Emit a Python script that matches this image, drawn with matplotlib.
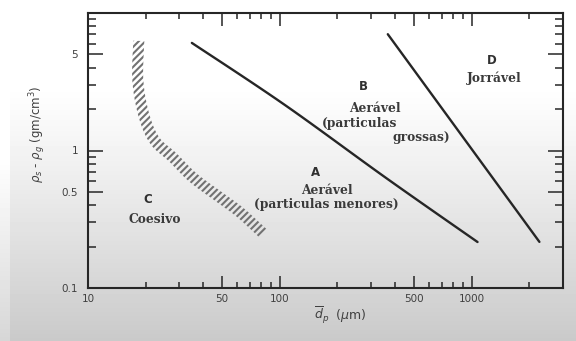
import numpy as np
import matplotlib
matplotlib.use('Agg')
import matplotlib.pyplot as plt
from matplotlib.patches import Polygon
from matplotlib.ticker import FixedLocator, NullFormatter

# boundary A/B  (dp in um, rho_s - rho_g in g/cm3)
ab_dp = [34.8, 106, 361, 1075]
ab_rho = [6.06, 2.15, 0.627, 0.216]

# boundary B/D
bd_dp = [366, 2260]
bd_rho = [7.01, 0.2165]

# hatched band C/A (centre line)
c_dp = [18.4, 18.2, 19.6, 22.3, 27.7, 35.2, 47.0, 61.9, 81.5]
c_rho = [6.27, 3.21, 1.79, 1.18, 0.89, 0.637, 0.472, 0.356, 0.251]

xticks = [10, 50, 100, 500, 1000]
xtick_labels = ['10', '50', '100', '500', '1000']
xminor = [20, 30, 40, 60, 70, 80, 90, 200, 300, 400, 600, 700, 800, 900, 2000, 3000]
yticks = [0.1, 0.5, 1, 5]
ytick_labels = ['0.1', '0.5', '1', '5']
yminor = [0.2, 0.3, 0.4, 0.6, 0.7, 0.8, 0.9, 2, 3, 4, 6, 7, 8, 9]

# region labels
letters = [('A', 154, 0.693), ('B', 274, 2.91), ('C', 20.5, 0.441), ('D', 1271, 4.49)]
names = [('Aerável', 312, 2.01), ('(particulas', 261, 1.57), ('grossas)', 549, 1.24),
         ('Jorrável', 1318, 3.38), ('Aerável', 176, 0.513),
         ('(particulas menores)', 174, 0.407), ('Coesivo', 22.3, 0.316)]


def smooth(p, n=12):
    # catmull-rom through the given display points
    p = np.vstack([p[0], p, p[-1]])
    out = []
    for i in range(1, len(p) - 2):
        p0, p1, p2, p3 = p[i - 1], p[i], p[i + 1], p[i + 2]
        for s in np.linspace(0, 1, n, endpoint=False):
            out.append(0.5 * ((2 * p1) + (-p0 + p2) * s + (2 * p0 - 5 * p1 + 4 * p2 - p3) * s ** 2
                              + (-p0 + 3 * p1 - 3 * p2 + p3) * s ** 3))
    out.append(p[-2])
    return np.array(out)


W, H = 576, 341
fig = plt.figure(figsize=(W / 100, H / 100), dpi=100)

# greyish photo background
bg = fig.add_axes([0, 0, 1, 1], zorder=-5)
rows = np.arange(H)
t = np.clip((rows - 85) / (H - 85), 0, 1)
col = 1 - 0.21 * t ** 1.1
img = np.repeat(col[:, None], W, axis=1)
img[:, :10] = np.minimum(img[:, :10] + 0.05, 1)
bg.imshow(img, cmap='gray', vmin=0, vmax=1, aspect='auto', extent=[0, 1, 0, 1])
bg.axis('off')

ax = fig.add_axes([88 / W, 1 - 288 / H, 475 / W, 275 / H])
ax.patch.set_alpha(0)
ax.set_xscale('log')
ax.set_yscale('log')
ax.set_xlim(10, 3000)
ax.set_ylim(0.1, 10)

dark = '#262626'
ab = ax.transData.inverted().transform(smooth(ax.transData.transform(np.column_stack([ab_dp, ab_rho]))))
ax.plot(ab[:, 0], ab[:, 1], color=dark, lw=1.7, solid_capstyle='round')
ax.plot(bd_dp, bd_rho, color=dark, lw=1.7, solid_capstyle='round')

# hatched band around the centre line, built in display space
plt.rcParams['hatch.linewidth'] = 1.5
pts = smooth(ax.transData.transform(np.column_stack([c_dp, c_rho])))
d = np.gradient(pts, axis=0)
d /= np.linalg.norm(d, axis=1)[:, None]
nrm = np.column_stack([-d[:, 1], d[:, 0]])
half = 5.5
poly_disp = np.vstack([pts + nrm * half, (pts - nrm * half)[::-1]])
poly_data = ax.transData.inverted().transform(poly_disp)
ax.add_patch(Polygon(poly_data, closed=True, facecolor='none', edgecolor='#727272',
                     lw=0, hatch='/////'))

for txt, x, y in letters:
    ax.text(x, y, txt, ha='center', va='center', fontsize=8.5, fontweight='bold',
            color='#303030', family='DejaVu Sans')
for txt, x, y in names:
    ax.text(x, y, txt, ha='center', va='center', fontsize=8.8, fontweight='bold',
            color='#3a3a3a', family='DejaVu Serif')

ax.xaxis.set_major_locator(FixedLocator(xticks))
ax.set_xticklabels(xtick_labels)
ax.xaxis.set_minor_locator(FixedLocator(xminor))
ax.xaxis.set_minor_formatter(NullFormatter())
ax.yaxis.set_major_locator(FixedLocator(yticks))
ax.set_yticklabels(ytick_labels)
ax.yaxis.set_minor_locator(FixedLocator(yminor))
ax.yaxis.set_minor_formatter(NullFormatter())

ax.tick_params(which='both', direction='in', top=True, right=True, width=1.1, color=dark,
               labelsize=7.5, labelcolor='#404040')
ax.tick_params(axis='x', which='major', length=9, pad=4)
ax.tick_params(axis='x', which='minor', length=4)
ax.tick_params(axis='y', which='major', length=11, pad=7)
ax.tick_params(axis='y', which='minor', length=5.5)
for sp in ax.spines.values():
    sp.set_linewidth(1.5)
    sp.set_color(dark)

ax.text((340 - 88) / 475, -27 / 275, r'$\overline{d}_p$  ($\mu$m)', transform=ax.transAxes,
        ha='center', va='center', fontsize=9, color='#404040')
ax.text(-50 / 475, 0.56, r'$\rho_s$ - $\rho_g$ (gm/cm$^3$)', transform=ax.transAxes,
        ha='center', va='center', rotation=90, fontsize=8.5, color='#404040')

fig.savefig('out.png', dpi=100)
